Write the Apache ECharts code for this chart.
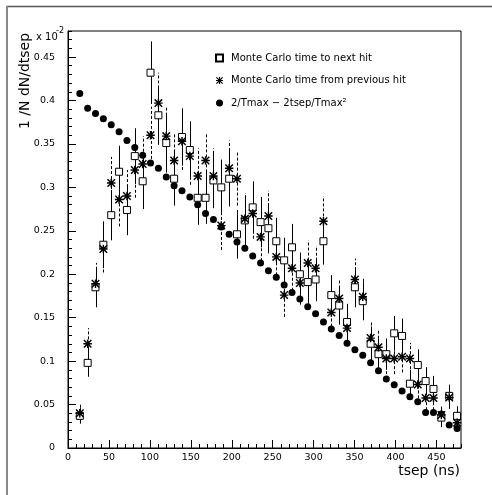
<!DOCTYPE html>
<html><head><meta charset="utf-8">
<script src="https://cdn.jsdelivr.net/npm/echarts@6/dist/echarts.min.js"></script>
<style>html,body{margin:0;padding:0;background:#fff}#c{width:492px;height:495px}</style>
</head><body><div id="c"></div>
<script>
// bin centres (ns)
const tsep = [14.4,24,33.6,43.2,52.8,62.4,72,81.6,91.2,100.8,110.4,120,129.6,139.2,148.8,158.4,168,177.6,187.2,196.8,206.4,216,225.6,235.2,244.8,254.4,264,273.6,283.2,292.8,302.4,312,321.6,331.2,340.8,350.4,360,369.6,379.2,388.8,398.4,408,417.6,427.2,436.8,446.4,456,465.6,475.2];
// Monte Carlo time to next hit (open squares, solid error bars)
const nextHit = [0.037,0.098,0.185,0.234,0.268,0.318,0.274,0.336,0.307,0.432, 0.383,0.351,0.310,0.358,0.343,0.288,0.288,0.308,0.300,0.310, 0.246,0.262,0.277,0.260,0.253,0.238,0.216,0.231,0.200,0.191, 0.194,0.238,0.176,0.164,0.145,0.185,0.169,0.120,0.108,0.108, 0.132,0.129,0.074,0.0955,0.077,0.068,0.035,0.060,0.037];
const nextHitErr = [0.009,0.016,0.023,0.027,0.029,0.030,0.029,0.032,0.032,0.036, 0.034,0.034,0.031,0.033,0.033,0.031,0.030,0.032,0.032,0.032, 0.028,0.029,0.030,0.029,0.029,0.027,0.026,0.027,0.025,0.025, 0.025,0.027,0.023,0.022,0.021,0.023,0.022,0.020,0.018,0.018, 0.020,0.020,0.016,0.018,0.016,0.015,0.011,0.013,0.011];
// Monte Carlo time from previous hit (stars, dashed error bars)
const prevHit = [0.040,0.120,0.189,0.229,0.305,0.286,0.290,0.320,0.327,0.360, 0.397,0.359,0.331,0.353,0.336,0.313,0.331,0.313,0.256,0.322, 0.310,0.264,0.270,0.243,0.267,0.220,0.176,0.207,0.190,0.213, 0.207,0.261,0.156,0.172,0.138,0.194,0.174,0.1265,0.116,0.103, 0.103,0.105,0.103,0.073,0.0575,0.0575,0.038,0.058,0.029];
const prevHitErr = [0.011,0.018,0.024,0.027,0.030,0.031,0.030,0.032,0.032,0.033, 0.035,0.034,0.031,0.033,0.033,0.032,0.031,0.032,0.028,0.032, 0.031,0.029,0.029,0.028,0.029,0.027,0.025,0.026,0.025,0.026, 0.026,0.029,0.022,0.023,0.021,0.024,0.023,0.020,0.019,0.018, 0.018,0.018,0.018,0.016,0.014,0.014,0.011,0.013,0.009];
// 2/Tmax - 2tsep/Tmax^2 (filled circles)
const linearModel = [0.408,0.391,0.385,0.379,0.372,0.364,0.354,0.346,0.337,0.328, 0.322,0.312,0.302,0.296,0.289,0.280,0.270,0.263,0.2545,0.246, 0.237,0.230,0.221,0.213,0.204,0.1965,0.1875,0.179,0.1715,0.1625, 0.1545,0.145,0.137,0.1295,0.1205,0.113,0.1068,0.098,0.089,0.0794, 0.0728,0.0657,0.059,0.0533,0.041,0.041,0.039,0.0265,0.0225];
const seriesNames = ['Monte Carlo time to next hit','Monte Carlo time from previous hit','2/Tmax \u2212 2tsep/Tmax\u00b2'];

const FONT = 'DejaVu Sans';
const STAR = 'path://M0,4.15L10,4.15L10,5.85L0,5.85Z M4.15,0L5.85,0L5.85,10L4.15,10Z M1.2,0L10,8.8L8.8,10L0,1.2Z M8.8,0L10,1.2L1.2,10L0,8.8Z';

function pts(vals){ return tsep.map((t,i)=>[t, vals[i]]); }
function bars(vals, errs){ return tsep.map((t,i)=>[t, vals[i]-errs[i], vals[i]+errs[i]]); }
function barRenderer(dash){
  return function(params, api){
    const x = api.value(0);
    const a = api.coord([x, api.value(1)]);
    const b = api.coord([x, api.value(2)]);
    const px = Math.round(a[0]) + 0.5;
    return {type:'line', shape:{x1:px, y1:a[1], x2:px, y2:b[1]},
      style:{stroke:'#000', lineWidth:1, lineDash:dash}};
  };
}

const chart = echarts.init(document.getElementById('c'), null, {renderer:'canvas'});
const tickLabel = {fontFamily:FONT, fontSize:9.5, color:'#000'};
const option = {
  animation:false,
  backgroundColor:'#fff',
  grid:{left:68, top:31, width:393, height:417, show:true, borderColor:'#000', borderWidth:1, backgroundColor:'#fff'},
  xAxis:[
    {type:'value', min:0, max:480, interval:10, position:'bottom',
     axisLine:{show:true, onZero:false, lineStyle:{color:'#000', width:1}},
     axisTick:{show:true, inside:true, length:4, lineStyle:{color:'#000'}},
     axisLabel:{show:false}, splitLine:{show:false}},
    {type:'value', min:0, max:480, interval:50, position:'bottom',
     axisLine:{show:false, onZero:false},
     axisTick:{show:true, inside:true, length:8, lineStyle:{color:'#000'}},
     axisLabel:Object.assign({show:true, margin:5, showMaxLabel:false}, tickLabel),
     splitLine:{show:false}}
  ],
  yAxis:[
    {type:'value', min:0, max:0.48, interval:0.01, position:'left',
     axisLine:{show:true, onZero:false, lineStyle:{color:'#000', width:1}},
     axisTick:{show:true, inside:true, length:4, lineStyle:{color:'#000'}},
     axisLabel:{show:false}, splitLine:{show:false}},
    {type:'value', min:0, max:0.48, interval:0.05, position:'left',
     axisLine:{show:false, onZero:false},
     axisTick:{show:true, inside:true, length:8, lineStyle:{color:'#000'}},
     axisLabel:Object.assign({show:true, margin:13, showMaxLabel:false}, tickLabel),
     splitLine:{show:false}}
  ],
  legend:{
    show:true, orient:'vertical', left:210, top:46, itemWidth:7, itemHeight:7, itemGap:8.5,
    selectedMode:false,
    textStyle:{fontFamily:FONT, fontSize:10, color:'#000', lineHeight:14, padding:[0,0,0,3]},
    data:[{name:seriesNames[0], icon:'rect'},{name:seriesNames[1], icon:STAR},{name:seriesNames[2], icon:'circle'}]
  },
  series:[
    {name:'err_next', type:'custom', xAxisIndex:0, yAxisIndex:0, renderItem:barRenderer(null),
     data:bars(nextHit, nextHitErr), encode:{x:0, y:[1,2]}, z:2, silent:true},
    {name:'err_prev', type:'custom', xAxisIndex:0, yAxisIndex:0, renderItem:barRenderer([3,2]),
     data:bars(prevHit, prevHitErr), encode:{x:0, y:[1,2]}, z:2, silent:true},
    {name:seriesNames[0], type:'scatter', xAxisIndex:0, yAxisIndex:0, data:pts(nextHit),
     symbol:'rect', symbolSize:7, itemStyle:{color:'#fff', borderColor:'#000', borderWidth:1, opacity:1}, z:4, silent:true},
    {name:seriesNames[1], type:'scatter', xAxisIndex:0, yAxisIndex:0, data:pts(prevHit),
     symbol:STAR, symbolSize:8.5, itemStyle:{color:'#000', opacity:1}, z:5, silent:true},
    {name:seriesNames[2], type:'scatter', xAxisIndex:0, yAxisIndex:0, data:pts(linearModel),
     symbol:'circle', symbolSize:7, itemStyle:{color:'#000', opacity:1}, z:3, silent:true}
  ],
  graphic:[
    {type:'line', shape:{x1:6, y1:6.5, x2:492, y2:6.5}, style:{stroke:'#555', lineWidth:1.5}, silent:true},
    {type:'line', shape:{x1:7, y1:6, x2:7, y2:495}, style:{stroke:'#888', lineWidth:2}, silent:true},
    {type:'text', x:25, y:81, rotation:Math.PI/2, silent:true,
     style:{text:'1 /N dN/dtsep', font:'14px "DejaVu Sans"', fill:'#000', align:'center', verticalAlign:'middle', textAlign:'center', textVerticalAlign:'middle'}},
    {type:'text', x:460, y:471, silent:true,
     style:{text:'tsep (ns)', font:'14px "DejaVu Sans"', fill:'#000', align:'right', verticalAlign:'middle', textAlign:'right', textVerticalAlign:'middle'}},
    {type:'text', x:36, y:37, silent:true,
     style:{text:'x 10', font:'10px "DejaVu Sans"', fill:'#000', align:'left', verticalAlign:'middle', textAlign:'left', textVerticalAlign:'middle'}},
    {type:'text', x:56, y:30.5, silent:true,
     style:{text:'-2', font:'8px "DejaVu Sans"', fill:'#000', align:'left', verticalAlign:'middle', textAlign:'left', textVerticalAlign:'middle'}}
  ]
};
chart.setOption(option);
</script>
</body></html>
